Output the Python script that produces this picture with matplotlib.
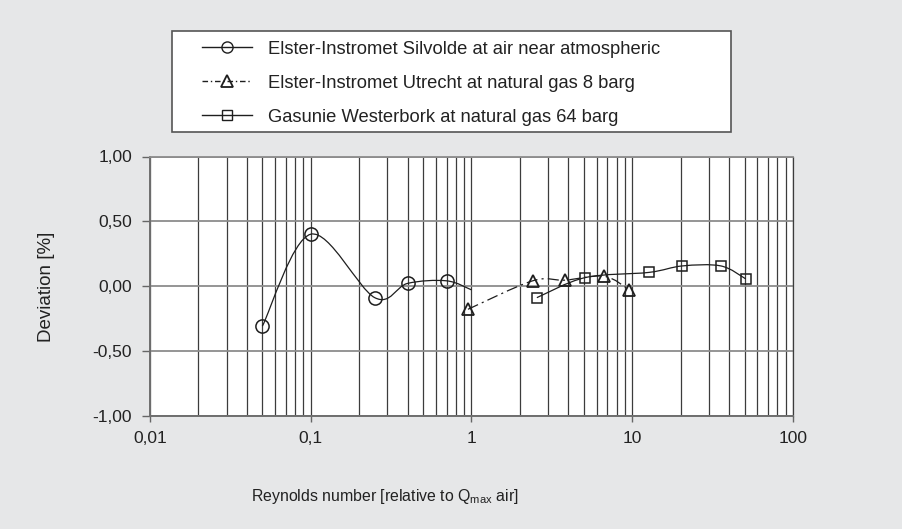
import numpy as np
import matplotlib
matplotlib.use("Agg")
import matplotlib.pyplot as plt
from matplotlib.path import Path
from matplotlib.patches import PathPatch, Rectangle
from matplotlib.lines import Line2D
from matplotlib.ticker import FixedLocator, FixedFormatter, LogLocator, NullFormatter

plt.rcParams['font.family'] = ['Liberation Sans', 'DejaVu Sans']
plt.rcParams['mathtext.fontset'] = 'custom'
plt.rcParams['mathtext.rm'] = 'Liberation Sans'
plt.rcParams['mathtext.it'] = 'Liberation Sans'
plt.rcParams['lines.scale_dashes'] = False

# ---------------- data ----------------
silvolde_x = [0.05, 0.10, 0.25, 0.40, 0.70]
silvolde_y = [-0.31, 0.40, -0.09, 0.02, 0.04]
silvolde_tail_x = [1.0]      # curve continues (unmarked) to here
silvolde_tail_y = [-0.03]

utrecht_x = [0.95, 2.4, 3.8, 6.7, 9.6]
utrecht_y = [-0.18, 0.04, 0.045, 0.075, -0.03]

westerbork_x = [2.55, 5.1, 12.7, 20.5, 35.6, 50.8]
westerbork_y = [-0.09, 0.065, 0.105, 0.155, 0.155, 0.055]

labels = ["Elster-Instromet Silvolde at air near atmospheric",
          "Elster-Instromet Utrecht at natural gas 8 barg",
          "Gasunie Westerbork at natural gas 64 barg"]

xticks = [0.01, 0.1, 1, 10, 100]
xtick_labels = ["0,01", "0,1", "1", "10", "100"]
yticks = [-1.0, -0.5, 0.0, 0.5, 1.0]
ytick_labels = ["-1,00", "-0,50", "0,00", "0,50", "1,00"]

BG = '#e6e7e8'
FS = 12.5
TC = '#222222'

W, H = 903, 529
fig = plt.figure(figsize=(W / 100, H / 100), dpi=100, facecolor=BG)
ax = fig.add_axes([150 / W, 1 - 415.5 / H, (793 - 150) / W, (415.5 - 156.5) / H])
ax.set_facecolor('white')
ax.set_xscale('log')
ax.set_xlim(0.01, 100)
ax.set_ylim(-1.0, 1.0)
ax.set_axisbelow(True)

ax.xaxis.set_major_locator(FixedLocator(xticks))
ax.xaxis.set_major_formatter(FixedFormatter(xtick_labels))
ax.xaxis.set_minor_locator(LogLocator(base=10, subs=np.arange(2, 10)))
ax.xaxis.set_minor_formatter(NullFormatter())
ax.yaxis.set_major_locator(FixedLocator(yticks))
ax.yaxis.set_major_formatter(FixedFormatter(ytick_labels))

ax.grid(True, axis='x', which='both', color='#3c3c3c', lw=0.9)
ax.grid(True, axis='y', which='major', color='#8c8c8c', lw=1.3)

ax.tick_params(axis='x', which='major', direction='out', length=4.5, width=1.0,
               color='#666666', pad=7, labelsize=FS, labelcolor=TC)
ax.tick_params(axis='x', which='minor', length=0)
ax.tick_params(axis='y', direction='out', length=5.8, width=1.0,
               color='#666666', pad=7, labelsize=FS, labelcolor=TC)

for s in ['left', 'bottom']:
    ax.spines[s].set_color('#6e6e6e')
    ax.spines[s].set_linewidth(1.4)
ax.spines['top'].set_color('#8c8c8c')
ax.spines['top'].set_linewidth(1.3)
ax.spines['right'].set_color('#3c3c3c')
ax.spines['right'].set_linewidth(0.9)


def smooth_path(xs, ys):
    """Catmull-Rom curve through the points, as cubic Bezier path (log-x space)."""
    lx = np.log10(np.asarray(xs, float))
    yy = np.asarray(ys, float)
    P = np.column_stack([lx, yy])
    n = len(P)
    verts = [P[0]]
    codes = [Path.MOVETO]
    for i in range(n - 1):
        p0 = P[i - 1] if i > 0 else P[i]
        p1 = P[i]
        p2 = P[i + 1]
        p3 = P[i + 2] if i + 2 < n else P[i + 1]
        c1 = p1 + (p2 - p0) / 6.0
        c2 = p2 - (p3 - p1) / 6.0
        verts += [c1, c2, p2]
        codes += [Path.CURVE4] * 3
    V = np.array(verts)
    V[:, 0] = 10 ** V[:, 0]
    return Path(V, codes)


LC = '#1e1e1e'
curve_lw = 0.9

ax.add_patch(PathPatch(smooth_path(silvolde_x + silvolde_tail_x, silvolde_y + silvolde_tail_y),
                       fill=False, ec=LC, lw=curve_lw, zorder=3))
ax.add_patch(PathPatch(smooth_path(utrecht_x, utrecht_y), fill=False, ec=LC, lw=curve_lw,
                       linestyle=(0, (8, 3, 1.5, 3)), zorder=3))
ax.add_patch(PathPatch(smooth_path(westerbork_x, westerbork_y), fill=False, ec=LC, lw=curve_lw,
                       zorder=3))

ax.plot(silvolde_x, silvolde_y, ls='none', marker='o', ms=9.5, mfc='none', mec=LC, mew=1.1, zorder=4)
ax.plot(utrecht_x, utrecht_y, ls='none', marker='^', ms=9, mfc='none', mec=LC, mew=1.3, zorder=4)
ax.plot(westerbork_x, westerbork_y, ls='none', marker='s', ms=7.5, mfc='none', mec=LC, mew=1.1, zorder=4)

# axis labels
fig.text(385 / W, 1 - 496 / H, "Reynolds number [relative to Q$_{\\mathrm{max}}$ air]",
         ha='center', va='center', fontsize=11.4, color=TC)
fig.text(46.7 / W, 1 - 287 / H, "Deviation [%]", rotation=90, ha='center', va='center',
         fontsize=13.5, color=TC)

# legend box
fig.patches.append(Rectangle((172 / W, 1 - 131.7 / H), (731 - 172) / W, (131.7 - 30.7) / H,
                             transform=fig.transFigure, facecolor='white', edgecolor='#555555',
                             lw=1.2, zorder=1))
handles = [
    Line2D([], [], color=LC, lw=1.0, marker='o', ms=8, mfc='none', mec=LC, mew=1.0),
    Line2D([], [], color=LC, lw=1.0, ls=(0, (4, 2, 1, 2)), marker='^', ms=8, mfc='none', mec=LC, mew=1.3),
    Line2D([], [], color=LC, lw=1.0, marker='s', ms=7, mfc='none', mec=LC, mew=1.0),
]
LFS = 13.2
leg = fig.legend(handles, labels, loc='upper left', bbox_to_anchor=(202 / W, 1 - 40.5 / H),
                 frameon=False, fontsize=LFS, handlelength=2.73, handletextpad=0.87,
                 labelspacing=0.93, borderpad=0, borderaxespad=0, labelcolor=TC)
leg.set_zorder(2)

fig.savefig("out.png", dpi=100, facecolor=BG)
